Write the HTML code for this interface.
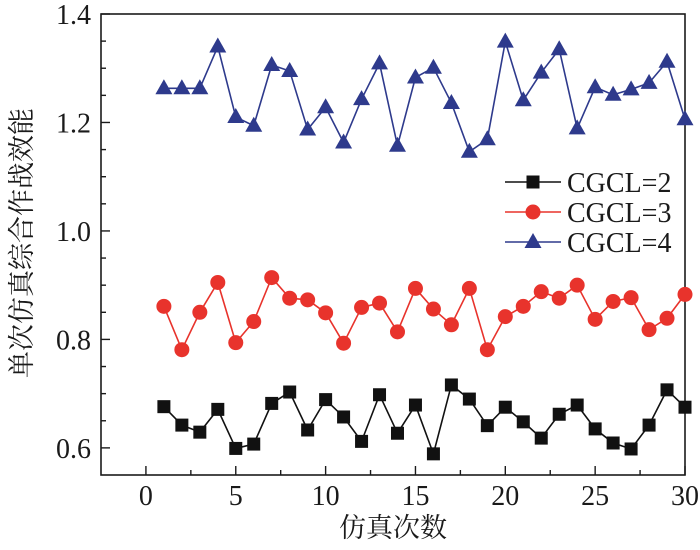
<!DOCTYPE html>
<html><head><meta charset="utf-8"><style>
html,body{margin:0;padding:0;background:#fff;}
svg{display:block;}
text{font-family:"Liberation Serif","Times New Roman","DejaVu Serif","Noto Serif CJK SC",serif;}
</style></head><body>
<svg id="chart" width="700" height="550" viewBox="0 0 700 550" xmlns="http://www.w3.org/2000/svg"></svg>
<script>
const runs = Array.from({length:30},(_,i)=>i+1);
const seriesNames = ["CGCL=2","CGCL=3","CGCL=4"];
const cgcl2 = [0.676,0.642,0.629,0.671,0.599,0.607,0.682,0.703,0.633,0.689,0.657,0.612,0.698,0.627,0.679,0.589,0.716,0.690,0.641,0.675,0.648,0.618,0.662,0.679,0.635,0.609,0.598,0.642,0.707,0.675];
const cgcl3 = [0.861,0.781,0.850,0.905,0.794,0.833,0.914,0.876,0.873,0.849,0.793,0.859,0.867,0.814,0.894,0.856,0.827,0.894,0.781,0.842,0.861,0.888,0.876,0.900,0.837,0.870,0.877,0.818,0.839,0.883];
const cgcl4 = [1.263,1.263,1.263,1.340,1.210,1.194,1.306,1.295,1.187,1.228,1.163,1.243,1.309,1.157,1.283,1.301,1.236,1.146,1.169,1.349,1.241,1.292,1.335,1.189,1.265,1.251,1.261,1.273,1.312,1.206];
const xTicks = [0,5,10,15,20,25,30];
const yTicks = [0.6,0.8,1.0,1.2,1.4];
const yTickLabels = ["0.6","0.8","1.0","1.2","1.4"];

const L=101,R=685,T=14,B=475;
const xMin=-2.5,xMax=30,yMin=0.55,yMax=1.4;
const X=v=>L+(v-xMin)/(xMax-xMin)*(R-L);
const Y=v=>B-(v-yMin)/(yMax-yMin)*(B-T);
const svg=document.getElementById('chart');
const NS='http://www.w3.org/2000/svg';
function mk(tag,attrs,parent){const e=document.createElementNS(NS,tag);for(const k in attrs)e.setAttribute(k,attrs[k]);if(tag==='text'){e.setAttribute('fill','#1a1a1a');}(parent||svg).appendChild(e);return e;}

const frame=mk('rect',{x:L,y:T,width:R-L,height:B-T,fill:'none',stroke:'#1a1a1a','stroke-width':1.6});



for(let v=0;v<=30;v+=2.5){
  const major=v%5===0;
  const t=mk('line',{x1:X(v),x2:X(v),y1:B,y2:B-(major?9:5),stroke:'#1a1a1a','stroke-width':1.4});
  
  
}
xTicks.forEach(v=>{
  const t=mk('text',{x:X(v),y:B+30,'text-anchor':'middle','font-size':28});
  t.textContent=v;
  
  
});
for(let v=0.6;v<=1.4001;v+=0.05){
  const major=Math.abs(v*10-Math.round(v*10))<1e-6 && Math.round(v*10)%2===0;
  const t=mk('line',{x1:L,x2:L+(major?9:5),y1:Y(v),y2:Y(v),stroke:'#1a1a1a','stroke-width':1.4});
  
  
}
yTicks.forEach((v,i)=>{
  const t=mk('text',{x:L-10,y:Y(v)+10,'text-anchor':'end','font-size':28});
  t.textContent=yTickLabels[i];
  
  
});
const xt=mk('text',{x:393,y:537,'text-anchor':'middle','font-size':27});
xt.textContent='仿真次数';


const yt=mk('text',{x:0,y:0,'text-anchor':'middle','font-size':27,transform:'translate(31,243) rotate(-90)'});
yt.textContent='单次仿真综合作战效能';



const colors=['#111111','#e8332c','#2e3a8c'];
function marker(kind,cx,cy,color,parent){
  if(kind===0) return mk('rect',{x:cx-6.5,y:cy-6.5,width:13,height:13,fill:color},parent);
  if(kind===1) return mk('circle',{cx:cx,cy:cy,r:7.5,fill:color},parent);
  return mk('polygon',{points:`${cx},${cy-9} ${cx-8.5},${cy+6} ${cx+8.5},${cy+6}`,fill:color},parent);
}
[cgcl2,cgcl3,cgcl4].forEach((data,si)=>{
  const g=mk('g',{});
  
  
  const pl=mk('polyline',{points:data.map((v,i)=>X(runs[i])+','+Y(v)).join(' '),fill:'none',stroke:colors[si],'stroke-width':1.6},g);
  
  
  data.forEach((v,i)=>{
    const m=marker(si,X(runs[i]),Y(v),colors[si],g);
    
    
  });
});
const lg=mk('g',{});


seriesNames.forEach((n,i)=>{
  const cy=182+i*30;
  const e=mk('g',{},lg);
  
  
  mk('line',{x1:505,x2:561,y1:cy,y2:cy,stroke:colors[i],'stroke-width':1.6},e);
  marker(i,533,cy,colors[i],e);
  const t=mk('text',{x:567,y:cy+10,'font-size':28},e);
  t.textContent=n;
});
</script>
</body></html>
